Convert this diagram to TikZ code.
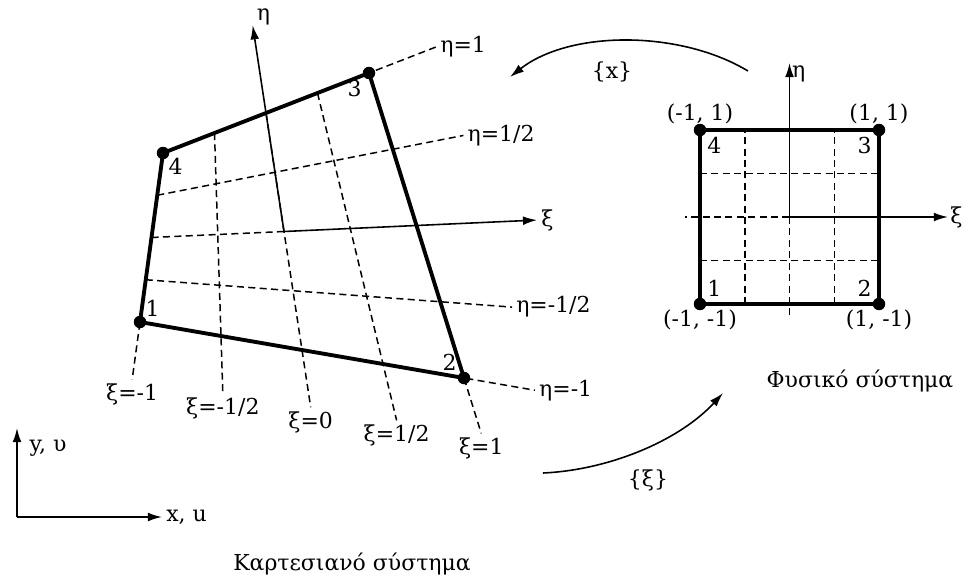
\documentclass[tikz,border=0pt]{standalone}
\usepackage{fontspec}
\setmainfont{DejaVu Serif}
\usetikzlibrary{calc,arrows.meta}

\tikzset{
  edge/.style={line width=2.2pt, line join=round},
  grid/.style={dash pattern=on 4pt off 2.5pt, line width=0.85pt},
  axis/.style={line width=0.9pt, -{Latex[length=8pt,width=5pt]}},
  dot/.style={circle, fill, inner sep=0pt, minimum size=0.25cm},
  lbl/.style={font=\fontsize{12.5}{15}\selectfont, inner sep=2pt},
}

\begin{document}
\begin{tikzpicture}[x=0.02cm, y=-0.02cm]
\useasboundingbox (0,0) rectangle (971,578);

% cartesian element
\coordinate (n1) at (140,322);
\coordinate (n2) at (464,378);
\coordinate (n3) at (369,73);
\coordinate (n4) at (163,153);
\coordinate (c) at ($($(n1)!0.5!(n2)$)!0.5!($(n4)!0.5!(n3)$)$);
\coordinate (cr) at ($(n2)!0.5!(n3)$);
\coordinate (cl) at ($(n1)!0.5!(n4)$);
\coordinate (ct) at ($(n4)!0.5!(n3)$);

\foreach \t/\lab [count=\i] in {0/{-1},0.25/{-1/2},0.5/0,0.75/{1/2},1/1}{
  \coordinate (b) at ($(n1)!\t!(n2)$);
  \coordinate (t) at ($(n4)!\t!(n3)$);
  \draw[grid] (t) -- (b) -- ($(b)!-1.16cm!(t)$) node[lbl, below] (xi\i) {ξ=\lab};
}
\foreach \s/\lab [count=\i] in {0/{-1},0.25/{-1/2},0.75/{1/2},1/1}{
  \coordinate (l) at ($(n1)!\s!(n4)$);
  \coordinate (r) at ($(n2)!\s!(n3)$);
  \draw[grid] (l) -- (r) -- ($(r)!-1.44cm!(l)$) node[lbl, right] (eta\i) {η=\lab};
}
\draw[grid] (cl) -- (c);

\draw[axis] (c) -- ($(c)!1.91!(cr)$) node[lbl, right] (xiax) {ξ};
\draw[axis] (c) -- ($(c)!1.74!(ct)$) node[lbl, right, yshift=5pt] (etaax) {η};

\draw[edge] (n1) -- (n2) -- (n3) -- (n4) -- cycle;
\foreach \k in {1,2,3,4} \node[dot] (d\k) at (n\k) {};
\node[lbl, above right, inner sep=3pt] (k1) at (n1) {1};
\node[lbl, above left, inner sep=4pt] (k2) at (n2) {2};
\node[lbl, below left, inner sep=4pt] (k3) at (n3) {3};
\node[lbl, below right, inner sep=3pt] (k4) at (n4) {4};

% natural element
\coordinate (m1) at (700,304);
\coordinate (m2) at (879,304);
\coordinate (m3) at (879,130);
\coordinate (m4) at (700,130);
\coordinate (mc) at ($(m1)!0.5!(m3)$);
\coordinate (mr) at ($(m2)!0.5!(m3)$);
\coordinate (ml) at ($(m1)!0.5!(m4)$);
\coordinate (mt) at ($(m4)!0.5!(m3)$);
\coordinate (mb) at ($(m1)!0.5!(m2)$);

\foreach \t in {0.25,0.75}{
  \draw[grid] ($(m1)!\t!(m2)$) -- ($(m4)!\t!(m3)$);
  \draw[grid] ($(m1)!\t!(m4)$) -- ($(m2)!\t!(m3)$);
}
\draw[grid] (mc) -- ($(mb)!-0.28cm!(mc)$);
\draw[grid] (mc) -- ($(ml)!-0.3cm!(mc)$);

\draw[axis] (mc) -- ($(mc)!1.77!(mr)$) node[lbl, right, inner sep=1pt] (xim) {ξ};
\draw[axis] (mc) -- ($(mc)!1.77!(mt)$) node[lbl, right, yshift=-6pt, inner sep=1pt] (etam) {η};

\draw[edge] (m1) -- (m2) -- (m3) -- (m4) -- cycle;
\foreach \k in {1,2,3,4} \node[dot] (e\k) at (m\k) {};
\node[lbl, above right, inner sep=4pt] (q1) at (m1) {1};
\node[lbl, above left, inner sep=4pt] (q2) at (m2) {2};
\node[lbl, below left, inner sep=4pt] (q3) at (m3) {3};
\node[lbl, below right, inner sep=4pt] (q4) at (m4) {4};
\node[lbl, above, inner sep=3pt] (p4) at (m4) {(-1, 1)};
\node[lbl, above, inner sep=3pt] (p3) at (m3) {(1, 1)};
\node[lbl, below, inner sep=3pt] (p1) at (m1) {(-1, -1)};
\node[lbl, below, inner sep=3pt] (p2) at (m2) {(1, -1)};

% mappings
\coordinate (xs) at (748,71);
\coordinate (xe) at (510,77);
\draw[line width=0.9pt, -{Latex[length=8pt,width=5pt]}] (xs) .. controls (680,30) and (570,30) .. (xe);
\node[lbl] (xmap) at (612,72) {\{x\}};
\coordinate (ss) at (543,473);
\coordinate (se) at (723,393);
\draw[line width=0.9pt, -{Latex[length=8pt,width=5pt]}] (ss) .. controls (610,470) and (680,440) .. (se);
\node[lbl] (smap) at (648,480) {\{ξ\}};

% global axes
\coordinate (o) at (17,517);
\draw[axis] (o) -- (162,517) node[lbl, right] (xu) {x, u};
\draw[axis] (o) -- (17,428);
\node[lbl] (yv) at (48,448) {y, υ};

\node[lbl] (phys) at (860,381) {Φυσικό σύστημα};
\node[lbl] (cart) at (352,564) {Καρτεσιανό σύστημα};
\end{tikzpicture}
\end{document}
